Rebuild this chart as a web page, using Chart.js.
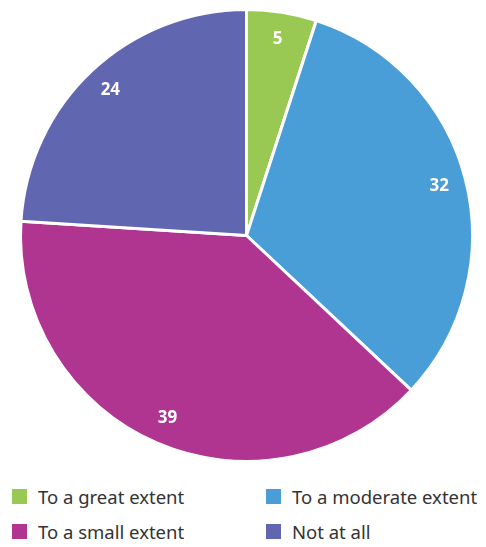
<!DOCTYPE html>
<html>
<head>
<meta charset="utf-8">
<script src="https://cdn.jsdelivr.net/npm/chart.js@4"></script>
<style>
  html, body { margin: 0; padding: 0; background: #fff; }
  body { width: 486px; height: 547px; position: relative; overflow: hidden; font-family: "Noto Sans", sans-serif; }
  #wrap { position: absolute; left: 0; top: 0; width: 486px; height: 470px; }
  .legend { position: absolute; left: 0; top: 484px; width: 486px; }
  .item { position: absolute; display: flex; align-items: center; font-size: 18.5px; color: #333; white-space: nowrap; }
  .item i { display: inline-block; width: 15px; height: 15px; margin-right: 11px; }
</style>
</head>
<body>
<div id="wrap"><canvas id="pie"></canvas></div>
<div class="legend" id="legend"></div>
<script>
const categories = ['To a great extent', 'To a moderate extent', 'To a small extent', 'Not at all'];
const values = [5, 32, 39, 24];
const colors = ['#99c952', '#4a9ed8', '#b03591', '#6166b0'];

// value labels drawn inside each slice
const sliceLabels = {
  id: 'sliceLabels',
  afterDatasetsDraw(chart) {
    const { ctx } = chart;
    const meta = chart.getDatasetMeta(0);
    ctx.save();
    ctx.fillStyle = '#fff';
    ctx.font = 'bold 17px "Noto Sans", sans-serif';
    ctx.textAlign = 'center';
    ctx.textBaseline = 'middle';
    meta.data.forEach((arc, i) => {
      const mid = (arc.startAngle + arc.endAngle) / 2;
      const r = arc.outerRadius * 0.88;
      ctx.fillText(values[i], arc.x + Math.cos(mid) * r, arc.y + Math.sin(mid) * r);
    });
    ctx.restore();
  }
};

new Chart(document.getElementById('pie'), {
  type: 'pie',
  data: {
    labels: categories,
    datasets: [{ data: values, backgroundColor: colors, borderColor: '#fff', borderWidth: 3 }]
  },
  options: {
    responsive: true,
    maintainAspectRatio: false,
    animation: false,
    layout: { padding: { left: 19, right: 12, top: 8, bottom: 7 } },
    plugins: { legend: { display: false }, tooltip: { enabled: false } }
  },
  plugins: [sliceLabels]
});

// two-column legend under the pie
const legend = document.getElementById('legend');
const pos = [[12, 0], [266, 0], [12, 35], [266, 35]];
categories.forEach((c, i) => {
  const el = document.createElement('div');
  el.className = 'item';
  el.style.left = pos[i][0] + 'px';
  el.style.top = pos[i][1] + 'px';
  el.innerHTML = `<i style="background:${colors[i]}"></i>${c}`;
  legend.appendChild(el);
});
</script>
</body>
</html>
